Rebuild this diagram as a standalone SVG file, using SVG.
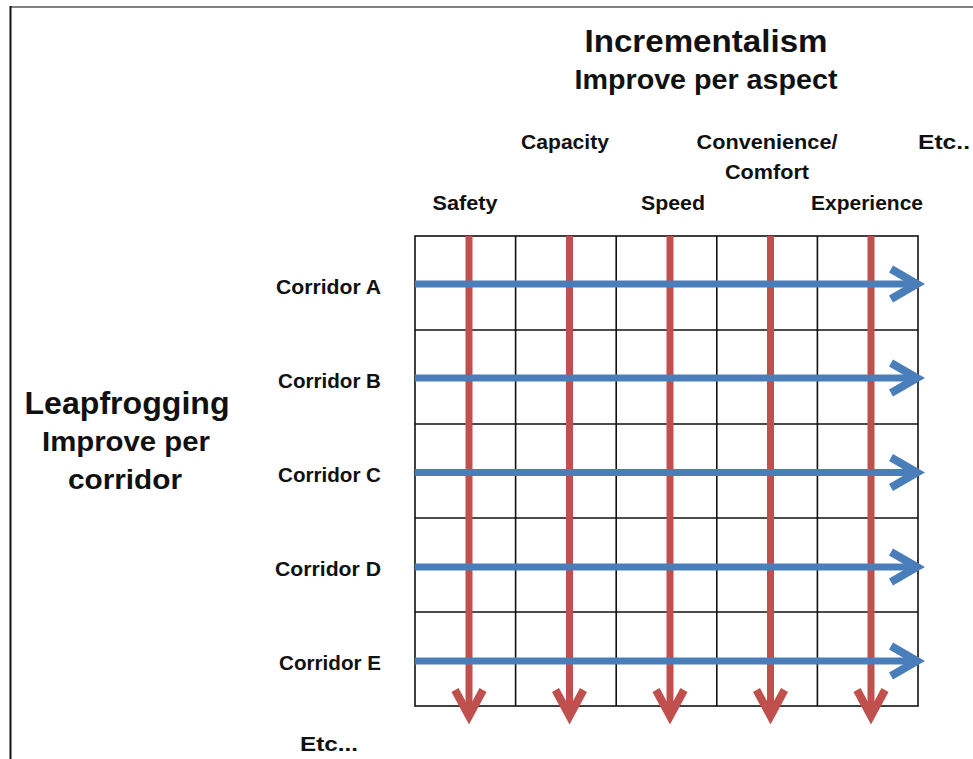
<svg xmlns="http://www.w3.org/2000/svg" width="973" height="759" viewBox="0 0 973 759">
<style>
text{font-family:"Liberation Sans",Arial,sans-serif;font-weight:bold;fill:#111}
.lbl{font-size:21px}
.grid{stroke:#111;stroke-width:1.6;fill:none}
.blue{stroke:#4a7ebb;stroke-width:7;fill:none}
.bhead{stroke:#4a7ebb;stroke-width:8;fill:none;stroke-linejoin:miter;stroke-miterlimit:10}
.red{stroke:#c0504d;stroke-width:7;fill:none}
.rhead{stroke:#c0504d;stroke-width:8;fill:none;stroke-linejoin:miter;stroke-miterlimit:10}
</style>
<rect width="973" height="759" fill="#fff"/>
<line x1="10" y1="7" x2="973" y2="7" stroke="#808080" stroke-width="2"/>
<line x1="10.5" y1="6" x2="10.5" y2="759" stroke="#111" stroke-width="2"/>

<g id="title-incrementalism">
<text x="706" y="52" font-size="32" text-anchor="middle" textLength="243" lengthAdjust="spacingAndGlyphs">Incrementalism</text>
<text x="706" y="89" font-size="28" text-anchor="middle" textLength="263" lengthAdjust="spacingAndGlyphs">Improve per aspect</text>
</g>
<g id="title-leapfrogging">
<text x="127" y="414" font-size="32" text-anchor="middle" textLength="205" lengthAdjust="spacingAndGlyphs">Leapfrogging</text>
<text x="126" y="451" font-size="28" text-anchor="middle" textLength="168" lengthAdjust="spacingAndGlyphs">Improve per</text>
<text x="125" y="489" font-size="28" text-anchor="middle" textLength="114" lengthAdjust="spacingAndGlyphs">corridor</text>
</g>

<g id="aspect-labels">
<text class="lbl" x="465" y="210" text-anchor="middle" textLength="65" lengthAdjust="spacingAndGlyphs">Safety</text>
<text class="lbl" x="565" y="149" text-anchor="middle" textLength="88" lengthAdjust="spacingAndGlyphs">Capacity</text>
<text class="lbl" x="673" y="210" text-anchor="middle" textLength="64" lengthAdjust="spacingAndGlyphs">Speed</text>
<text class="lbl" x="767" y="149" text-anchor="middle" textLength="141" lengthAdjust="spacingAndGlyphs">Convenience/</text>
<text class="lbl" x="767" y="179" text-anchor="middle" textLength="84" lengthAdjust="spacingAndGlyphs">Comfort</text>
<text class="lbl" x="867" y="210" text-anchor="middle" textLength="112" lengthAdjust="spacingAndGlyphs">Experience</text>
<text class="lbl" x="918" y="149" textLength="52" lengthAdjust="spacingAndGlyphs">Etc..</text>
</g>

<g id="corridor-labels">
<text class="lbl" x="381" y="294" text-anchor="end" textLength="105" lengthAdjust="spacingAndGlyphs">Corridor A</text>
<text class="lbl" x="381" y="388" text-anchor="end" textLength="103" lengthAdjust="spacingAndGlyphs">Corridor B</text>
<text class="lbl" x="381" y="482" text-anchor="end" textLength="103" lengthAdjust="spacingAndGlyphs">Corridor C</text>
<text class="lbl" x="381" y="576" text-anchor="end" textLength="106" lengthAdjust="spacingAndGlyphs">Corridor D</text>
<text class="lbl" x="381" y="670" text-anchor="end" textLength="102" lengthAdjust="spacingAndGlyphs">Corridor E</text>
<text class="lbl" x="300" y="751" textLength="58" lengthAdjust="spacingAndGlyphs">Etc...</text>
</g>

<g id="grid" class="grid">
<rect x="415" y="236" width="503" height="470"/>
<line x1="515.6" y1="236" x2="515.6" y2="706"/>
<line x1="616.2" y1="236" x2="616.2" y2="706"/>
<line x1="716.8" y1="236" x2="716.8" y2="706"/>
<line x1="817.4" y1="236" x2="817.4" y2="706"/>
<line x1="415" y1="330" x2="918" y2="330"/>
<line x1="415" y1="424" x2="918" y2="424"/>
<line x1="415" y1="518" x2="918" y2="518"/>
<line x1="415" y1="612" x2="918" y2="612"/>
</g>

<g id="connectors">
<g id="aspect-arrows">
<line class="red" x1="469" y1="236" x2="469" y2="714"/>
<polyline class="rhead" points="455,690 469,716 483,690"/>
<line class="red" x1="569.5" y1="236" x2="569.5" y2="714"/>
<polyline class="rhead" points="555.5,690 569.5,716 583.5,690"/>
<line class="red" x1="670" y1="236" x2="670" y2="714"/>
<polyline class="rhead" points="656,690 670,716 684,690"/>
<line class="red" x1="770.5" y1="236" x2="770.5" y2="714"/>
<polyline class="rhead" points="756.5,690 770.5,716 784.5,690"/>
<line class="red" x1="871" y1="236" x2="871" y2="714"/>
<polyline class="rhead" points="857,690 871,716 885,690"/>
</g>
<g id="corridor-arrows">
<line class="blue" x1="415" y1="284" x2="915" y2="284"/>
<polyline class="bhead" points="891,269 917,284 891,299"/>
<line class="blue" x1="415" y1="378" x2="915" y2="378"/>
<polyline class="bhead" points="891,363 917,378 891,393"/>
<line class="blue" x1="415" y1="472.5" x2="915" y2="472.5"/>
<polyline class="bhead" points="891,457.5 917,472.5 891,487.5"/>
<line class="blue" x1="415" y1="567" x2="915" y2="567"/>
<polyline class="bhead" points="891,552 917,567 891,582"/>
<line class="blue" x1="415" y1="661" x2="915" y2="661"/>
<polyline class="bhead" points="891,646 917,661 891,676"/>
</g>
</g>
</svg>
